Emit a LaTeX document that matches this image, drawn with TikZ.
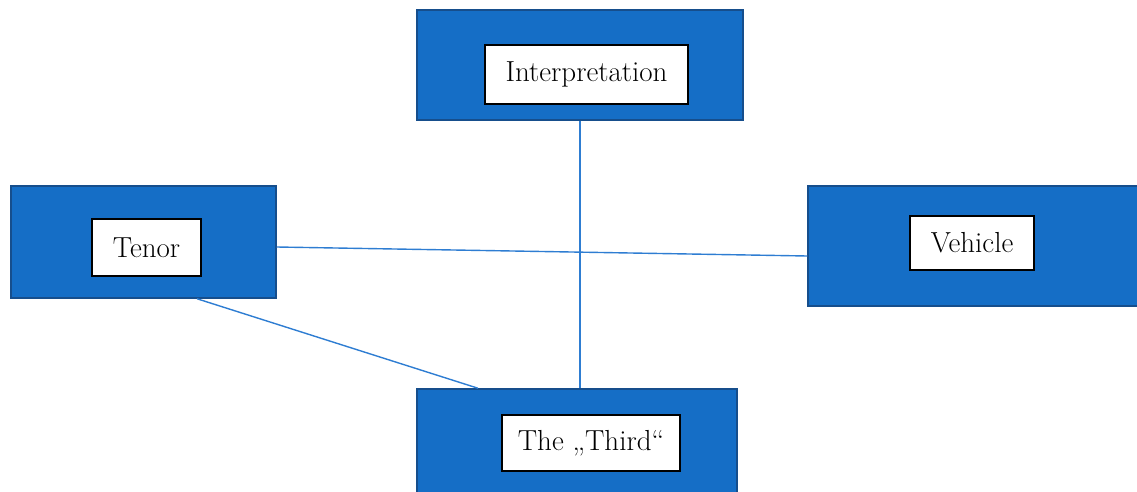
\documentclass[tikz,border=0pt]{standalone}
\usetikzlibrary{calc}
\definecolor{boxblue}{RGB}{21,110,198}
\definecolor{boxedge}{RGB}{22,78,140}
\definecolor{linkblue}{RGB}{46,125,210}
\tikzset{
  outerbox/.style={draw=boxedge, fill=boxblue, line width=1.5pt, inner sep=0pt},
  labelbox/.style={draw=black, fill=white, line width=1.3pt, inner sep=0pt,
    font=\fontsize{29}{34}\selectfont},
  link/.style={draw=linkblue, line width=1.4pt}
}
\begin{document}
\begin{tikzpicture}[x=1pt,y=-1pt]
\useasboundingbox (0,0) rectangle (1137,492);
\clip (0,0) rectangle (1137,492);
\node[outerbox, minimum width=326pt, minimum height=110pt] (top) at (580,65) {};
\node[outerbox, minimum width=265pt, minimum height=112pt] (tenor) at (143.5,242) {};
\node[outerbox, minimum width=330pt, minimum height=120pt] (vehicle) at (973,246) {};
\node[outerbox, minimum width=320pt, minimum height=122pt] (third) at (577,450) {};
\node[labelbox, minimum width=203pt, minimum height=59pt] (tinterp) at (586.5,74.5) {Interpretation};
\node[labelbox, minimum width=109pt, minimum height=57pt] (ttenor) at (146.5,247.5) {Tenor};
\node[labelbox, minimum width=124pt, minimum height=54pt] (tvehicle) at (972,243) {Vehicle};
\node[labelbox, minimum width=178pt, minimum height=56pt] (tthird) at (591,443) {The \quotedblbase Third\textquotedblleft};
\draw[link] (top.south) -- ([xshift=3pt]third.north);
\draw[link] ([yshift=-5pt]tenor.east) -- ([yshift=-10pt]vehicle.west);
\draw[link] ([xshift=53.5pt]tenor.south) -- ([xshift=-99pt]third.north);
\end{tikzpicture}
\end{document}
